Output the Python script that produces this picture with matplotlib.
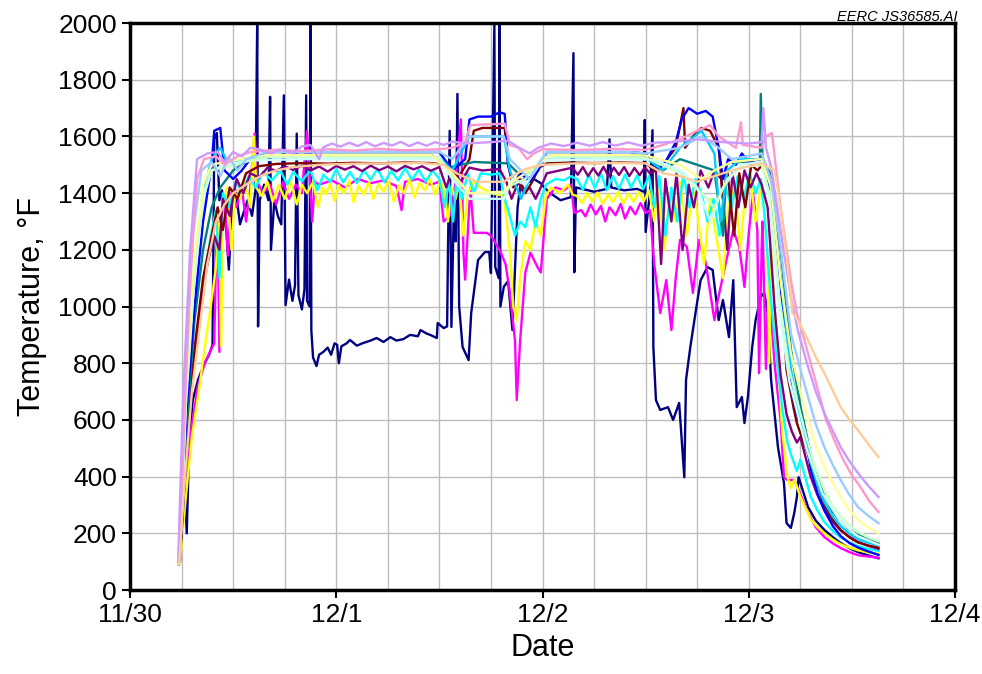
import numpy as np
import matplotlib
matplotlib.use("Agg")
import matplotlib.pyplot as plt
from matplotlib.ticker import MultipleLocator

plt.rcParams['font.family'] = ['Liberation Sans', 'DejaVu Sans']

# --- Thermocouple readings: (hours after 11/30 00:00, temperature in deg F) ---
navy = [(5.7, 90), (6.3, 420), (6.6, 200), (6.9, 530), (7.3, 670), (7.9, 740), (8.6, 795),
        (9.2, 830), (9.6, 865), (9.7, 1200), (9.8, 1590), (10.1, 1612), (10.4, 1375), (10.7, 1410),
        (11.2, 1270), (11.5, 1130), (11.9, 1340), (12.3, 1410), (12.8, 1290), (13.3, 1340),
        (13.7, 1375), (14.2, 1320), (14.6, 1410), (14.8, 2000), (14.9, 930), (15.1, 1375),
        (15.6, 1430), (16.1, 1375), (16.3, 1740), (16.4, 1200), (16.8, 1375), (17.2, 1320),
        (17.6, 1290), (17.9, 1745), (18.1, 1005), (18.5, 1095), (18.9, 1020), (19.2, 1075),
        (19.4, 1610), (19.6, 1040), (20.0, 990), (20.3, 1060), (20.5, 1745), (20.6, 1020),
        (20.9, 1000), (21.0, 2000), (21.1, 915), (21.3, 820), (21.7, 790), (22.0, 830),
        (22.5, 840), (23.0, 855), (23.4, 830), (23.8, 870), (24.1, 865), (24.3, 800), (24.6, 860),
        (25.2, 870), (25.6, 882), (26.4, 862), (27.1, 871), (28.0, 880), (28.7, 889), (29.5, 875),
        (30.3, 892), (31.0, 880), (31.8, 885), (32.6, 900), (33.5, 895), (33.8, 917), (34.5, 905),
        (35.0, 899), (35.7, 889), (35.8, 942), (36.5, 924), (36.9, 930), (37.0, 1200),
        (37.2, 1620), (37.4, 928), (37.7, 1375), (37.9, 1230), (38.1, 1750), (38.3, 1000),
        (38.7, 857), (39.4, 811), (39.7, 977), (40.5, 1164), (41.3, 1192), (41.8, 1192),
        (42.0, 1118), (42.4, 2000), (42.5, 1140), (42.9, 1100), (43.0, 2000), (43.1, 1000),
        (43.5, 1070), (44.0, 1090), (44.5, 917), (45.1, 1350), (45.5, 1445), (46.6, 1457),
        (47.8, 1435), (48.2, 1420), (48.9, 1400), (50.1, 1375), (51.3, 1386), (51.6, 1894),
        (51.7, 1121), (51.9, 1420), (53.0, 1412), (54.0, 1405), (55.5, 1415), (55.8, 1590),
        (56.0, 1420), (57.5, 1410), (59.0, 1415), (59.8, 1405), (59.9, 1658), (60.0, 1263),
        (60.5, 1400), (60.8, 1622), (60.9, 857), (61.2, 670), (61.7, 635), (62.6, 645),
        (63.2, 600), (63.9, 660), (64.5, 398), (64.7, 741), (65.2, 857), (65.8, 977),
        (66.4, 1093), (67.2, 1139), (67.8, 1129), (68.5, 952), (69.0, 1023), (69.7, 892),
        (70.2, 1093), (70.6, 645), (71.2, 681), (71.5, 589), (71.9, 681), (72.4, 857),
        (72.8, 952), (73.4, 1034), (73.8, 1048), (74.2, 977), (74.6, 741), (75.4, 504),
        (76.1, 377), (76.4, 236), (76.9, 219), (77.3, 272), (77.6, 328), (77.8, 398),
        (78.9, 293), (79.8, 245), (80.8, 212), (81.8, 186), (82.7, 166), (83.7, 148),
        (84.7, 134), (85.9, 122), (87.1, 112)]

magenta = [(5.8, 100), (6.4, 380), (7.0, 540), (7.9, 720), (8.7, 800), (9.3, 840), (9.8, 870),
           (10.0, 1160), (10.2, 1300), (10.4, 840), (10.6, 1250), (11.0, 1380), (11.4, 1180),
           (11.8, 1400), (12.4, 1350), (13.0, 1420), (13.5, 1300), (14.0, 1420), (14.5, 1610),
           (14.8, 1440), (15.5, 1400), (16.3, 1430), (17.0, 1360), (17.8, 1440), (18.5, 1380),
           (19.3, 1430), (20.0, 1400), (20.6, 1620), (21.2, 1300), (21.5, 1440), (22.0, 1430),
           (23.5, 1445), (25.0, 1420), (26.5, 1450), (28.0, 1435), (29.5, 1445), (31.0, 1425),
           (31.6, 1340), (32.0, 1440), (33.5, 1450), (35.0, 1430), (36.0, 1440), (36.5, 1300),
           (37.2, 1320), (37.8, 1420), (38.5, 1660), (38.8, 1190), (39.0, 1095), (39.6, 1420),
           (40.0, 1260), (41.5, 1260), (42.0, 1250), (43.0, 1200), (43.7, 1150), (44.2, 1050),
           (44.8, 880), (45.0, 670), (45.4, 880), (46.0, 1120), (46.6, 1190), (47.4, 1140),
           (47.8, 1120), (48.5, 1380), (49.5, 1420), (50.5, 1410), (51.3, 1430), (51.7, 1330),
           (52.5, 1340), (53.0, 1318), (53.6, 1360), (54.2, 1325), (54.8, 1355), (55.3, 1300),
           (55.8, 1350), (56.5, 1322), (57.1, 1362), (57.6, 1310), (58.2, 1352), (58.8, 1325),
           (59.4, 1365), (60.0, 1330), (60.5, 1340),
           (61.0, 1150), (61.7, 977), (62.4, 1093), (63.0, 917), (63.5, 1100), (64.0, 1235),
           (64.8, 1210), (65.5, 1048), (66.2, 1235), (67.0, 1153), (68.0, 952), (68.4, 1023),
           (69.4, 1164), (70.2, 1270), (70.9, 1210), (71.5, 1069), (72.0, 1260), (72.5, 1400),
           (73.0, 1270), (73.2, 765), (73.5, 1200), (73.6, 1300), (74.0, 780), (74.3, 1100),
           (75.0, 800), (75.7, 600), (76.1, 398), (76.5, 388), (77.3, 388), (77.8, 353),
           (78.9, 272), (79.8, 222), (80.8, 187), (81.8, 164), (82.7, 148), (83.7, 134),
           (84.7, 123), (85.9, 118), (87.1, 114)]

yellow = [(5.8, 95), (6.5, 330), (7.2, 540), (8.0, 700), (8.8, 880), (9.4, 1000), (10.0, 1140),
          (10.4, 1300), (10.6, 860), (10.8, 1350), (11.3, 1420), (11.8, 1200), (12.2, 1400),
          (12.8, 1380), (13.4, 1440), (14.0, 1350), (14.4, 1600), (14.7, 1420), (15.3, 1390),
          (16.0, 1440), (16.6, 1370), (17.3, 1430), (18.0, 1380), (18.7, 1440), (19.4, 1360),
          (20.0, 1430), (20.6, 1400), (21.3, 1440), (21.9, 1350), (22.4, 1420), (22.8, 1395),
          (23.3, 1435), (23.8, 1372), (24.3, 1428), (24.9, 1400), (25.5, 1445), (26.0, 1368),
          (26.6, 1425), (27.2, 1395), (27.8, 1440), (28.3, 1380), (28.9, 1432), (29.5, 1405),
          (30.1, 1445), (30.7, 1370), (31.3, 1428), (31.9, 1400), (32.5, 1450), (33.1, 1385),
          (33.7, 1436), (34.3, 1410), (34.9, 1450), (35.5, 1395), (36.1, 1445), (36.6, 1400),
          (37.0, 1300), (37.4, 1420), (37.9, 1380), (38.3, 1440), (38.8, 1250), (39.3, 1400),
          (40.0, 1440), (40.8, 1420), (42.0, 1400), (43.5, 1390), (44.2, 1200), (44.6, 1000),
          (45.0, 950), (45.4, 1100), (46.0, 1230), (46.6, 1200), (47.2, 1300), (47.8, 1250),
          (48.4, 1390), (49.0, 1420), (50.0, 1400), (51.0, 1430), (51.5, 1395), (52.0, 1390),
          (52.6, 1365), (53.2, 1400), (53.8, 1370), (54.4, 1402), (55.0, 1362), (55.6, 1395),
          (56.2, 1368), (56.8, 1404), (57.4, 1364), (58.0, 1398), (58.6, 1370), (59.2, 1405),
          (59.8, 1372), (60.4, 1410), (61.0, 1300), (61.5, 1420), (62.2, 1200), (62.8, 1400),
          (63.5, 1300), (64.0, 1440), (64.8, 1250), (65.5, 1420), (66.0, 1330), (66.8, 1150),
          (67.5, 1380), (68.2, 1250), (69.0, 1100), (69.6, 1350), (70.4, 1430), (71.0, 1200),
          (71.6, 1400), (72.2, 1450), (72.8, 1300), (73.4, 1420), (73.8, 1350), (74.2, 1150),
          (74.4, 800), (74.5, 1250), (75.2, 900), (75.9, 560), (76.5, 400), (76.9, 360),
          (77.3, 390), (78.0, 330), (79.2, 250), (80.0, 222), (80.8, 200), (81.8, 178),
          (82.7, 162), (83.7, 150), (84.7, 140), (85.9, 133), (87.1, 128)]

cyan = [(5.8, 100), (6.4, 400), (7.0, 650), (7.8, 900), (8.6, 1100), (9.4, 1250), (10.0, 1340),
        (10.4, 1100), (10.8, 1400), (11.5, 1350), (12.3, 1440), (13.0, 1400), (13.8, 1460),
        (14.6, 1420), (15.5, 1475), (16.5, 1445), (17.5, 1480), (18.3, 1430), (19.0, 1475),
        (20.0, 1442), (21.0, 1482), (21.8, 1410), (22.5, 1465), (23.3, 1440), (24.0, 1485),
        (24.8, 1438), (25.6, 1475), (26.4, 1435), (27.2, 1482), (28.0, 1448), (28.8, 1486),
        (29.6, 1438), (30.4, 1478), (31.2, 1445), (32.0, 1488), (32.8, 1448), (33.6, 1482),
        (34.4, 1440), (35.2, 1480), (36.0, 1450), (36.6, 1350), (37.1, 1440), (37.6, 1300),
        (38.0, 1450), (38.6, 1380), (39.3, 1470), (40.0, 1400), (40.8, 1470), (42.0, 1465),
        (43.0, 1470), (43.6, 1380), (44.2, 1320), (44.8, 1250), (45.4, 1300), (46.0, 1280),
        (46.6, 1350), (47.2, 1280), (47.8, 1380), (48.4, 1430), (49.5, 1450), (50.5, 1445),
        (51.3, 1460), (52.0, 1450), (52.7, 1412), (53.4, 1465), (54.1, 1418), (54.8, 1468),
        (55.5, 1410), (56.2, 1460), (56.9, 1415), (57.6, 1466), (58.3, 1420), (59.0, 1462),
        (59.7, 1414), (60.4, 1460), (61.0, 1350), (61.6, 1460), (62.3, 1250), (63.0, 1420),
        (63.7, 1300), (64.4, 1470), (65.1, 1350), (65.8, 1450), (66.5, 1400), (67.2, 1300),
        (67.9, 1380), (68.6, 1250), (69.3, 1420), (70.0, 1350), (70.7, 1460), (71.4, 1380),
        (72.1, 1470), (72.8, 1400), (73.4, 1450), (73.9, 1300), (74.5, 1050), (75.2, 830),
        (75.9, 640), (76.5, 520), (77.0, 470), (77.6, 420), (78.0, 460), (79.2, 330),
        (80.0, 280), (80.8, 240), (81.8, 208), (82.7, 185), (83.7, 168), (84.7, 155),
        (85.9, 145), (87.1, 138)]

purple = [(5.8, 100), (6.5, 450), (7.3, 750), (8.2, 1000), (9.0, 1150), (9.8, 1250), (10.4, 1200),
          (10.8, 1380), (11.6, 1320), (12.4, 1450), (13.2, 1400), (14.0, 1470), (15.0, 1455),
          (16.0, 1490), (17.0, 1478), (18.0, 1495), (19.0, 1482), (20.0, 1497), (21.0, 1480),
          (22.0, 1494), (23.0, 1476), (24.0, 1496), (25.0, 1483), (26.0, 1495), (27.0, 1478),
          (28.0, 1497), (29.0, 1481), (30.0, 1494), (31.0, 1477), (32.0, 1496), (33.0, 1484),
          (34.0, 1495), (35.0, 1479), (36.0, 1492), (36.8, 1420), (37.5, 1480), (38.5, 1440),
          (39.5, 1490), (41.0, 1480), (43.0, 1485), (43.8, 1440), (44.4, 1380), (45.2, 1440),
          (45.8, 1400), (46.5, 1420), (47.2, 1380), (47.8, 1420), (48.5, 1470), (50.0, 1480),
          (51.5, 1490), (52.1, 1465), (52.7, 1492), (53.3, 1460), (53.9, 1488), (54.5, 1462),
          (55.1, 1493), (55.7, 1458), (56.3, 1490), (56.9, 1464), (57.5, 1492), (58.1, 1460),
          (58.7, 1489), (59.3, 1463), (59.9, 1491), (60.5, 1470), (61.2, 1480), (61.8, 1150),
          (62.3, 1450), (63.0, 1300), (63.6, 1470), (64.3, 1200), (65.0, 1430), (65.6, 1350),
          (66.4, 1480), (67.3, 1420), (68.0, 1480), (68.8, 1450), (69.5, 1200), (70.1, 1470),
          (70.8, 1350), (71.5, 1480), (72.2, 1420), (72.9, 1470), (73.5, 1430), (74.2, 1350),
          (75.0, 1000), (75.7, 760), (76.4, 620), (77.0, 560), (77.6, 520), (78.0, 540),
          (79.2, 400), (80.0, 335), (80.8, 285), (81.8, 240), (82.7, 210), (83.7, 188),
          (84.7, 170), (85.9, 156), (87.1, 145)]

dark_red = [(5.8, 100), (6.5, 500), (7.5, 850), (8.5, 1100), (9.5, 1250), (10.2, 1350), (10.8, 1270),
            (11.6, 1420), (12.5, 1380), (13.5, 1470), (15.0, 1495), (17.0, 1503), (20.0, 1506),
            (23.0, 1504), (26.0, 1507), (29.0, 1505), (32.0, 1508), (35.0, 1506), (36.8, 1500),
            (37.5, 1450), (38.5, 1470), (39.5, 1520), (40.0, 1620), (41.0, 1630), (42.5, 1630),
            (43.6, 1630), (44.0, 1500), (44.6, 1420), (45.2, 1460), (46.0, 1400), (46.8, 1440),
            (47.6, 1490), (48.5, 1505), (51.0, 1508), (54.0, 1506), (57.0, 1508), (60.0, 1506),
            (61.0, 1480), (62.0, 1500), (63.5, 1560), (64.4, 1700), (64.6, 1560), (65.5, 1600),
            (66.5, 1630), (67.5, 1620), (68.5, 1560), (69.0, 1380), (69.5, 1480), (70.3, 1250),
            (70.9, 1470), (71.6, 1350), (72.3, 1500), (73.0, 1480), (73.6, 1500), (74.6, 1440),
            (75.7, 1093), (76.4, 776), (77.2, 645), (77.6, 589), (78.0, 554), (79.0, 470),
            (80.0, 370), (80.8, 300), (81.8, 248), (82.7, 212), (83.7, 186), (84.7, 168),
            (85.9, 157), (87.1, 150)]

teal = [(5.8, 100), (6.5, 550), (7.5, 950), (8.5, 1200), (9.5, 1350), (10.5, 1420), (12.0, 1480),
        (14.0, 1520), (16.0, 1533), (20.0, 1535), (25.0, 1535), (30.0, 1535), (35.0, 1535),
        (37.0, 1490), (38.5, 1500), (40.0, 1510), (44.0, 1505), (45.5, 1460), (47.0, 1490),
        (49.0, 1535), (55.0, 1535), (60.0, 1533), (62.0, 1480), (64.0, 1520), (66.0, 1500),
        (68.0, 1480), (69.0, 1250), (69.4, 1500), (70.0, 1510), (72.0, 1510), (73.3, 1520),
        (73.4, 1750), (73.6, 1520), (74.5, 1470), (75.7, 1200), (76.9, 850), (78.0, 650),
        (79.2, 480), (80.0, 395), (80.8, 330), (81.8, 275), (82.7, 240), (83.7, 213),
        (84.7, 195), (85.9, 178), (87.1, 165)]

blue = [(5.8, 100), (6.5, 600), (7.5, 1000), (8.5, 1300), (9.5, 1500), (9.8, 1620), (10.5, 1630),
        (11.0, 1480), (12.0, 1450), (13.0, 1480), (14.0, 1520), (16.0, 1545), (22.0, 1545),
        (27.0, 1545), (32.0, 1545), (36.0, 1545), (37.5, 1480), (39.0, 1520), (39.5, 1660),
        (40.5, 1670), (42.0, 1670), (43.0, 1685), (43.6, 1680), (44.0, 1500), (44.6, 1430),
        (45.5, 1470), (46.5, 1440), (47.5, 1480), (48.5, 1545), (50.0, 1545), (55.0, 1545),
        (58.0, 1545), (60.0, 1540), (61.5, 1480), (62.5, 1520), (63.5, 1580), (64.2, 1660),
        (65.0, 1700), (66.0, 1680), (67.0, 1690), (67.8, 1670), (68.5, 1560), (69.0, 1450),
        (69.6, 1520), (70.5, 1500), (71.2, 1540), (72.0, 1510), (73.0, 1520), (74.0, 1500),
        (75.2, 1250), (76.2, 900), (77.0, 700), (77.8, 600), (78.4, 580), (79.2, 430),
        (80.0, 340), (80.8, 280), (81.8, 225), (82.7, 190), (83.7, 166), (84.7, 150),
        (85.9, 136), (87.1, 124)]

sky_blue = [(5.8, 100), (6.5, 700), (7.5, 1150), (8.5, 1400), (9.5, 1520), (10.5, 1560),
            (11.5, 1500), (13.0, 1520), (16.0, 1527), (20.0, 1527), (26.0, 1527), (31.0, 1527),
            (36.0, 1527), (37.5, 1480), (39.5, 1600), (43.5, 1600), (44.2, 1480), (45.5, 1380),
            (46.5, 1450), (48.0, 1527), (55.0, 1527), (60.0, 1525), (62.0, 1480), (64.0, 1560),
            (66.5, 1620), (68.0, 1540), (68.7, 1300), (69.5, 1480), (71.0, 1520), (73.5, 1520),
            (74.5, 1430), (75.7, 1100), (76.9, 780), (78.0, 600), (79.2, 450), (80.0, 370),
            (80.8, 310), (81.8, 258), (82.7, 225), (83.7, 199), (84.7, 180), (85.9, 167),
            (87.1, 158)]

lt_turquoise = [(5.8, 100), (6.5, 650), (7.5, 1100), (8.5, 1380), (9.5, 1480), (11.0, 1500),
                (14.0, 1515), (20.0, 1520), (28.0, 1520), (36.0, 1520), (37.5, 1450), (39.5, 1380),
                (43.5, 1380), (44.5, 1450), (46.0, 1430), (48.0, 1515), (56.0, 1520), (61.0, 1518),
                (64.0, 1480), (66.0, 1420), (67.5, 1300), (69.0, 1420), (71.0, 1500), (73.5, 1510),
                (74.4, 1380), (75.5, 1000), (76.7, 740), (78.7, 500), (80.6, 340), (82.7, 240),
                (84.7, 190), (87.1, 160)]

lt_green = [(5.8, 100), (6.5, 680), (7.5, 1120), (8.5, 1400), (9.5, 1480), (11.0, 1490),
            (14.0, 1515), (16.0, 1527), (20.0, 1527), (26.0, 1527), (31.0, 1527), (36.0, 1527),
            (37.5, 1460), (39.5, 1400), (43.5, 1400), (44.5, 1430), (46.0, 1450), (48.0, 1527),
            (55.0, 1527), (60.0, 1525), (64.0, 1470), (66.5, 1400), (68.0, 1350), (69.5, 1450),
            (71.0, 1490), (73.5, 1500), (74.4, 1400), (75.5, 1050), (76.7, 780), (78.7, 540),
            (79.6, 445), (80.6, 370), (81.6, 305), (82.7, 260), (83.7, 228), (84.7, 205),
            (85.9, 186), (87.1, 172)]

lt_yellow = [(5.8, 100), (6.5, 720), (7.5, 1180), (8.5, 1430), (9.5, 1500), (11.0, 1510),
             (14.0, 1525), (16.0, 1535), (20.0, 1535), (25.0, 1535), (30.0, 1535), (35.0, 1535),
             (37.5, 1470), (39.5, 1400), (43.5, 1405), (44.5, 1440), (46.0, 1470), (49.0, 1535),
             (55.0, 1535), (60.0, 1533), (64.0, 1500), (66.5, 1450), (68.0, 1480), (70.0, 1510),
             (73.5, 1520), (74.6, 1421), (75.7, 1093), (76.9, 836), (77.9, 710), (78.9, 600),
             (79.8, 510), (80.8, 434), (81.8, 375), (82.7, 328), (83.7, 283), (84.7, 247),
             (85.9, 220), (87.1, 201)]

pale_blue = [(5.8, 100), (6.5, 760), (7.3, 1250), (8.3, 1480), (9.5, 1510), (10.5, 1460),
             (11.5, 1527), (12.5, 1480), (13.5, 1520), (16.0, 1545), (22.0, 1545), (27.0, 1545),
             (32.0, 1545), (36.0, 1545), (37.5, 1520), (39.5, 1600), (43.5, 1600), (44.2, 1520),
             (45.5, 1480), (46.5, 1450), (47.5, 1500), (48.5, 1545), (50.0, 1545), (55.0, 1545),
             (58.0, 1545), (60.0, 1540), (64.0, 1560), (66.5, 1600), (68.5, 1560), (70.0, 1520),
             (73.5, 1540), (74.6, 1446), (75.7, 1210), (76.9, 906), (77.9, 790), (78.9, 681),
             (79.8, 585), (80.8, 504), (81.8, 440), (82.7, 388), (83.7, 336), (84.7, 293),
             (85.9, 262), (87.1, 236)]

rose = [(5.7, 100), (6.3, 600), (7.0, 1100), (7.8, 1450), (8.6, 1520), (10.0, 1530), (11.0, 1500),
        (12.5, 1530), (14.0, 1545), (17.0, 1553), (20.0, 1548), (23.0, 1555), (26.0, 1550),
        (29.0, 1556), (32.0, 1551), (36.0, 1555),
        (37.5, 1560), (39.0, 1580), (39.6, 1640), (43.6, 1645), (44.2, 1570), (45.2, 1560),
        (46.2, 1520), (47.0, 1540), (48.0, 1555), (52.0, 1552), (56.0, 1556), (60.0, 1553),
        (62.0, 1570), (64.0, 1590), (66.0, 1620), (67.5, 1640), (68.5, 1600), (70.5, 1560),
        (71.1, 1650), (71.3, 1570), (73.5, 1560), (74.0, 1600), (74.7, 1612), (75.7, 1351),
        (76.9, 1093), (77.6, 977), (78.4, 890), (79.2, 801), (80.1, 700), (81.0, 600),
        (82.0, 525), (83.0, 459), (84.0, 405), (85.0, 363), (86.0, 315), (87.1, 275)]

lavender = [(5.6, 100), (6.2, 700), (7.0, 1200), (7.8, 1520), (9.0, 1540), (10.2, 1545),
            (11.0, 1510), (12.0, 1545), (13.0, 1530), (14.0, 1560), (15.0, 1555), (16.5, 1540),
            (17.5, 1555), (19.0, 1540), (20.0, 1565), (21.0, 1570), (22.0, 1520), (22.5, 1562),
            (23.5, 1575), (24.5, 1564), (25.5, 1578), (26.5, 1566), (27.5, 1580), (28.5, 1565),
            (29.5, 1577), (30.5, 1568), (31.5, 1581), (32.5, 1566), (33.5, 1579), (34.5, 1567),
            (35.5, 1580), (36.5, 1570), (37.5, 1582), (39.0, 1575), (42.0, 1580), (44.0, 1585),
            (45.0, 1565), (46.5, 1540), (47.5, 1560), (49.0, 1575), (50.5, 1566), (52.0, 1578),
            (53.5, 1567), (55.0, 1580), (56.5, 1568), (58.0, 1579), (59.5, 1567), (61.0, 1578),
            (63.0, 1580), (66.0, 1590), (69.0, 1580), (72.0, 1575), (73.5, 1580), (73.7, 1700),
            (74.0, 1560), (74.6, 1492), (75.7, 1270), (76.9, 1034), (77.7, 917), (78.9, 787),
            (79.8, 700), (80.8, 624), (81.8, 560), (82.7, 504), (83.7, 455), (84.7, 413),
            (85.9, 368), (87.1, 328)]

tan = [(5.7, 90), (6.4, 400), (7.2, 700), (8.2, 950), (9.0, 1150), (10.0, 1300), (11.0, 1360),
       (12.0, 1400), (13.0, 1420), (14.0, 1440), (15.5, 1465), (17.0, 1480), (19.0, 1492),
       (22.0, 1500), (26.0, 1504), (30.0, 1505), (34.0, 1506), (36.5, 1500), (38.0, 1470),
       (39.5, 1450), (40.5, 1440), (42.0, 1440), (43.5, 1440), (44.5, 1460), (46.0, 1485),
       (48.0, 1500), (52.0, 1505), (56.0, 1506), (60.0, 1505), (62.0, 1470), (64.0, 1460),
       (66.0, 1440), (68.0, 1460), (70.0, 1480), (72.0, 1495), (73.5, 1505), (75.0, 1480),
       (75.7, 1350), (76.5, 1150), (77.1, 977), (77.7, 952), (78.9, 882), (79.8, 822),
       (80.8, 765), (81.8, 702), (82.7, 645), (83.7, 602), (84.7, 564), (85.9, 515),
       (87.1, 469)]

series = [(navy, '#000080'), (magenta, '#FF00FF'), (yellow, '#FFFF00'), (cyan, '#00FFFF'),
          (purple, '#800080'), (dark_red, '#800000'), (teal, '#008080'), (blue, '#0000FF'),
          (sky_blue, '#00CCFF'), (lt_turquoise, '#CCFFFF'), (lt_green, '#CCFFCC'),
          (lt_yellow, '#FFFF99'), (pale_blue, '#99CCFF'), (rose, '#FF99CC'),
          (lavender, '#CC99FF'), (tan, '#FFCC99')]

date_labels = ['11/30', '12/1', '12/2', '12/3', '12/4']

fig = plt.figure(figsize=(9.82, 6.74), dpi=100)
ax = fig.add_axes([0.1324, 0.1246, 0.8401, 0.8412])
ax.set_axisbelow(True)

for pts, col in series:
    hrs, temps = zip(*pts)
    ax.plot(np.array(hrs) / 24.0, temps, color=col, lw=1.7)

ax.set_xlim(0, 4)
ax.set_ylim(0, 2000)
ax.set_xticks(range(len(date_labels)))
ax.set_xticklabels(date_labels)
ax.xaxis.set_minor_locator(MultipleLocator(0.25))
ax.set_yticks(range(0, 2001, 200))
ax.grid(which='both', color='#bdbdbd', lw=1)
ax.tick_params(which='minor', length=0)
ax.tick_params(which='major', labelsize=19, width=1.5, length=6, colors='black')
for s in ax.spines.values():
    s.set_linewidth(2.5)

ax.set_xlabel('Date', fontsize=22, labelpad=4)
ax.set_ylabel('Temperature, °F', fontsize=22, labelpad=8)
fig.text(0.975, 0.985, 'EERC JS36585.AI', style='italic', ha='right', va='top', fontsize=10.5)

fig.savefig('out.png', dpi=100)
